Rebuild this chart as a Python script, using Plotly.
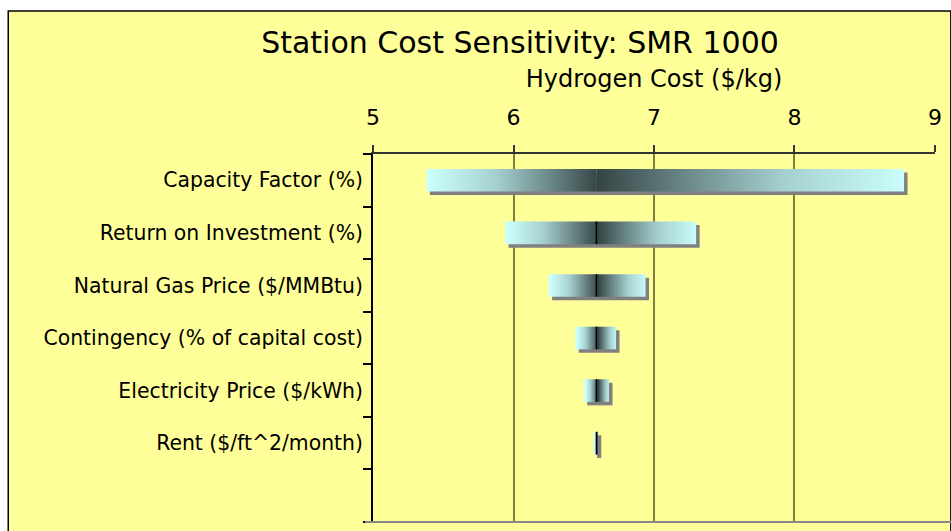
import plotly.graph_objects as go

# Tornado chart data: hydrogen cost ($/kg) at the low and high end of each input
categories = [
    "Capacity Factor (%)",
    "Return on Investment (%)",
    "Natural Gas Price ($/MMBtu)",
    "Contingency (% of capital cost)",
    "Electricity Price ($/kWh)",
    "Rent ($/ft^2/month)",
]
low_values = [5.38, 5.94, 6.25, 6.44, 6.50, 6.57]
high_values = [8.78, 7.30, 6.94, 6.73, 6.68, 6.60]
base_value = 6.59
x_ticks = [5, 6, 7, 8, 9]

# Styling
W, H = 951, 531
M_L, M_R, M_T, M_B = 373, 11, 154, 9
PLOT_W = W - M_L - M_R
PLOT_H = H - M_T - M_B
X_RANGE = [4.9999, 9.0001]
N_SLOTS = len(categories) + 1
Y_RANGE = [N_SLOTS - 0.5, -0.5]

YELLOW = "#FFFF99"
CYAN = "#CCFFFF"
DARK = "#354545"
SHADOW = "#808080"
FONT = "DejaVu Sans"

px_per_x = PLOT_W / (X_RANGE[1] - X_RANGE[0])
px_per_y = PLOT_H / N_SLOTS
half_h = 0.215
sh_dx = 3.5 / px_per_x
sh_dy = 3.5 / px_per_y

to_dark = [[0.0, CYAN], [0.4, "#a6d0d0"], [0.7, "#6f8c8c"], [1.0, DARK]]
to_light = [[1 - s, c] for s, c in reversed(to_dark)]


def rect(x0, x1, yc, dx=0.0, dy=0.0):
    xs = [x0 + dx, x1 + dx, x1 + dx, x0 + dx, x0 + dx]
    ys = [yc - half_h + dy, yc - half_h + dy, yc + half_h + dy, yc + half_h + dy, yc - half_h + dy]
    return xs, ys


fig = go.Figure()

for i, (lo, hi) in enumerate(zip(low_values, high_values)):
    # drop shadow
    xs, ys = rect(lo, hi, i, sh_dx, sh_dy)
    fig.add_trace(go.Scatter(x=xs, y=ys, fill="toself", fillcolor=SHADOW, mode="lines",
                             line=dict(width=0), hoverinfo="skip", showlegend=False))
    # low side: light at the end, dark toward the base case
    xs, ys = rect(lo, base_value, i)
    fig.add_trace(go.Scatter(x=xs, y=ys, fill="toself", mode="lines", line=dict(width=0),
                             fillgradient=dict(type="horizontal", colorscale=to_dark,
                                               start=lo, stop=base_value),
                             hoverinfo="skip", showlegend=False))
    # high side: dark at the base case, light at the end
    xs, ys = rect(base_value, hi, i)
    fig.add_trace(go.Scatter(x=xs, y=ys, fill="toself", mode="lines", line=dict(width=0),
                             fillgradient=dict(type="horizontal", colorscale=to_light,
                                               start=base_value, stop=hi),
                             hoverinfo="skip", showlegend=False))
    # base-case divider
    if i > 0:
        fig.add_trace(go.Scatter(x=[base_value, base_value], y=[i - half_h, i + half_h],
                                 mode="lines", line=dict(color="black", width=1.5),
                                 hoverinfo="skip", showlegend=False))

# Category labels on an overlaid axis
fig.add_trace(go.Scatter(x=[None], y=[None], yaxis="y2", showlegend=False, hoverinfo="skip"))

fig.update_layout(
    width=W, height=H,
    margin=dict(l=M_L, r=M_R, t=M_T, b=M_B),
    paper_bgcolor="white",
    plot_bgcolor="rgba(0,0,0,0)",
    font=dict(family=FONT, color="black"),
    title=dict(text="Station Cost Sensitivity: SMR 1000", x=520 / W, xref="container",
               xanchor="center", y=1 - 42 / H, yref="container", yanchor="middle",
               font=dict(size=30, family=FONT, color="black")),
    xaxis=dict(
        side="top", range=X_RANGE, tickvals=x_ticks, ticktext=[str(v) for v in x_ticks],
        showgrid=True, gridcolor="rgba(40,40,0,0.6)", gridwidth=1.5,
        ticks="outside", ticklen=7, tickcolor="#333", tickwidth=1.5,
        showline=True, linecolor="#333", linewidth=1.5, zeroline=False,
        tickfont=dict(size=22, family=FONT), ticklabelstandoff=11,
        title=dict(text="Hydrogen Cost ($/kg)", font=dict(size=24, family=FONT), standoff=11),
    ),
    yaxis=dict(
        range=Y_RANGE, tickvals=[k - 0.5 for k in range(N_SLOTS + 1)], showticklabels=False,
        ticks="outside", ticklen=8, tickcolor="black", tickwidth=1.5,
        showline=True, linecolor="black", linewidth=2, showgrid=False, zeroline=False,
    ),
    yaxis2=dict(
        overlaying="y", side="left", range=Y_RANGE, tickvals=list(range(len(categories))),
        ticktext=categories, ticks="", showline=False, showgrid=False, zeroline=False,
        tickfont=dict(size=20.4, family=FONT), ticklabelstandoff=9,
    ),
    shapes=[
        dict(type="rect", xref="paper", yref="paper", layer="below",
             x0=(5 - M_L) / PLOT_W, x1=(W + 5 - M_L) / PLOT_W,
             y0=(H - M_B - H - 10) / PLOT_H, y1=(H - M_B - 11) / PLOT_H,
             fillcolor=YELLOW, line=dict(color="black", width=1.5)),
        dict(type="line", xref="paper", yref="paper", x0=-8 / PLOT_W, x1=1.05, y0=0, y1=0,
             line=dict(color="#888", width=2)),
    ],
)

fig.write_html("out.html")
